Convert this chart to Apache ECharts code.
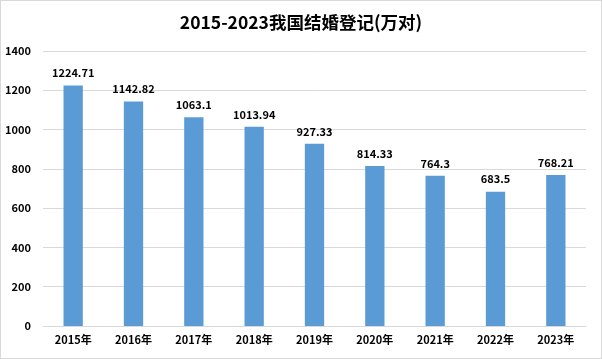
<!DOCTYPE html>
<html><head><meta charset="utf-8">
<script src="https://cdn.jsdelivr.net/npm/echarts@6/dist/echarts.min.js"></script>
<style>html,body{margin:0;padding:0;background:#fff}#c{width:602px;height:359px;box-sizing:border-box;border:1px solid #d9d9d9}</style>
</head><body><div id="c"></div>
<script>
const titleText = '2015-2023我国结婚登记(万对)';
const categories = ['2015年','2016年','2017年','2018年','2019年','2020年','2021年','2022年','2023年'];
const values = [1224.71, 1142.82, 1063.1, 1013.94, 927.33, 814.33, 764.3, 683.5, 768.21];
const yTicks = [0, 200, 400, 600, 800, 1000, 1200, 1400];

const font = '"Noto Sans CJK SC", "Noto Sans", sans-serif';
const chart = echarts.init(document.getElementById('c'), null, {renderer: 'canvas'});
chart.setOption({
  animation: false,
  title: {text: titleText, left: 'center', top: 8,
    textStyle: {fontFamily: font, fontSize: 17.5, fontWeight: 'bold', color: '#000'}},
  grid: {left: 42, right: 15, top: 50, bottom: 32, containLabel: false},
  xAxis: {type: 'category', data: categories,
    axisLine: {show: true, lineStyle: {color: '#d9d9d9'}}, axisTick: {show: false},
    axisLabel: {fontFamily: font, fontSize: 11, fontWeight: 'bold', color: '#000', margin: 8}},
  yAxis: {type: 'value', min: yTicks[0], max: yTicks[yTicks.length-1], interval: 200,
    axisLine: {show: false}, axisTick: {show: false},
    axisLabel: {fontFamily: font, fontSize: 11, fontWeight: 'bold', color: '#000', margin: 12,
      formatter: v => String(v)},
    splitLine: {lineStyle: {color: '#d9d9d9'}}},
  series: [{type: 'bar', data: values, barWidth: '32%',
    itemStyle: {color: '#5b9bd5'},
    label: {show: true, position: 'top', distance: 7, fontFamily: font, fontSize: 11,
      fontWeight: 'bold', color: '#000'}}]
});
</script></body></html>
